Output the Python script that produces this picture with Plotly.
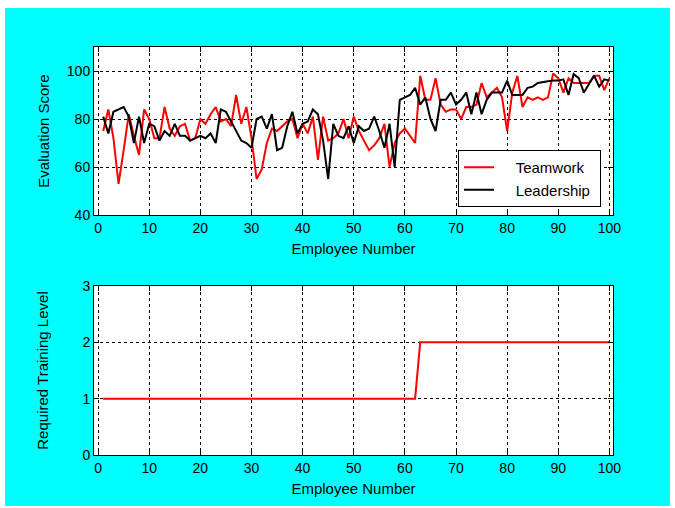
import plotly.graph_objects as go

employee = list(range(1, 101))

teamwork = [75, 84, 72, 53, 67, 82, 73, 65, 84, 80,
            72, 72, 85, 76, 73, 77, 78, 71, 72, 80,
            78, 82, 85, 79, 80, 77, 90, 78, 85, 72,
            55, 59, 70, 76, 75, 77, 79, 80, 72, 78,
            74, 81, 63, 81, 71, 72, 74, 80, 72, 81,
            75, 71, 67, 69, 72, 78, 60, 70, 74, 76,
            73, 70, 98, 88, 88, 97, 86, 83, 84, 84,
            80, 85, 85, 86, 95, 89, 91, 93, 89, 75,
            91, 98, 85, 89, 88, 89, 88, 89, 99, 97,
            91, 97, 95, 95, 95, 95, 98, 98, 92, 97]

leadership = [81, 74, 83, 84, 85, 81, 70, 81, 70, 78,
              77, 71, 75, 73, 78, 73, 73, 71, 72, 73,
              72, 74, 70, 84, 83, 79, 75, 71, 70, 68,
              80, 81, 76, 82, 67, 68, 77, 83, 74, 78,
              79, 84, 82, 71, 55, 78, 73, 72, 77, 70,
              77, 75, 76, 81, 75, 68, 78, 60, 88, 89,
              90, 93, 86, 89, 80, 75, 88, 88, 91, 86,
              88, 91, 82, 91, 82, 88, 91, 91, 91, 96,
              90, 90, 90, 93, 93.5, 95, 95.5, 95.7, 96, 96,
              96.5, 90, 98.7, 97, 91, 94.5, 98, 93.5, 96.5, 96]

training_level = [1, 1, 1, 1, 1, 1, 1, 1, 1, 1,
                  1, 1, 1, 1, 1, 1, 1, 1, 1, 1,
                  1, 1, 1, 1, 1, 1, 1, 1, 1, 1,
                  1, 1, 1, 1, 1, 1, 1, 1, 1, 1,
                  1, 1, 1, 1, 1, 1, 1, 1, 1, 1,
                  1, 1, 1, 1, 1, 1, 1, 1, 1, 1,
                  1, 1, 2, 2, 2, 2, 2, 2, 2, 2,
                  2, 2, 2, 2, 2, 2, 2, 2, 2, 2,
                  2, 2, 2, 2, 2, 2, 2, 2, 2, 2,
                  2, 2, 2, 2, 2, 2, 2, 2, 2, 2]

x_ticks = [0, 10, 20, 30, 40, 50, 60, 70, 80, 90, 100]
score_ticks = [40, 60, 80, 100]
level_ticks = [0, 1, 2, 3]

FONT = "Liberation Sans, Arial, Helvetica, sans-serif"
W, H = 675, 508
ML, MR, MT, MB = 94, 62, 47, 53
PW, PH = W - ML - MR, H - MT - MB


def px2x(px):
    return (px - ML) / PW


def py2y(py):
    return (H - MB - py) / PH


top_dom = [py2y(215), 1.0]
bot_dom = [0.0, py2y(286)]

NB = "\u00a0"

fig = go.Figure()
fig.add_trace(go.Scatter(x=employee, y=teamwork, mode="lines", name=NB * 4 + "Teamwork" + NB,
                         line=dict(color="#ff0000", width=2), xaxis="x", yaxis="y"))
fig.add_trace(go.Scatter(x=employee, y=leadership, mode="lines", name=NB * 4 + "Leadership" + NB,
                         line=dict(color="#000000", width=2), xaxis="x", yaxis="y"))
fig.add_trace(go.Scatter(x=employee, y=training_level, mode="lines", name="Training",
                         line=dict(color="#ff0000", width=2), xaxis="x2", yaxis="y2",
                         showlegend=False))

axis_common = dict(
    showline=True, linecolor="black", linewidth=1, mirror="ticks",
    ticks="inside", ticklen=5, tickcolor="black", tickwidth=1,
    showgrid=True, gridcolor="black", gridwidth=1, griddash="3px,3px",
    zeroline=False, tickfont=dict(family=FONT, size=14, color="black"),
)

fig.update_layout(
    width=W, height=H,
    margin=dict(l=ML, r=MR, t=MT, b=MB, pad=0),
    paper_bgcolor="white", plot_bgcolor="white",
    font=dict(family=FONT, size=14, color="black"),
    xaxis=dict(domain=[0, 1], anchor="y", range=[-0.8, 100.7], tickvals=x_ticks,
               title=dict(text="Employee Number", font=dict(size=15), standoff=8),
               **axis_common),
    yaxis=dict(domain=top_dom, anchor="x", range=[40, 110], tickvals=score_ticks,
               title=dict(text="Evaluation Score", font=dict(size=15), standoff=13),
               **axis_common),
    xaxis2=dict(domain=[0, 1], anchor="y2", range=[-0.8, 100.7], tickvals=x_ticks,
                title=dict(text="Employee Number", font=dict(size=15), standoff=8),
                **axis_common),
    yaxis2=dict(domain=bot_dom, anchor="x2", range=[0, 3], tickvals=level_ticks,
                title=dict(text="Required Training Level", font=dict(size=15), standoff=30),
                **axis_common),
    legend=dict(x=px2x(601), y=py2y(150), xanchor="right", yanchor="top",
                bgcolor="white", bordercolor="black", borderwidth=1,
                font=dict(family=FONT, size=15, color="black")),
    shapes=[
        dict(type="rect", xref="paper", yref="paper", layer="below",
             x0=px2x(5), x1=px2x(670), y0=py2y(506), y1=py2y(8),
             fillcolor="#00ffff", line=dict(width=0)),
        dict(type="rect", xref="paper", yref="paper", layer="below",
             x0=0, x1=1, y0=top_dom[0], y1=top_dom[1],
             fillcolor="white", line=dict(width=0)),
        dict(type="rect", xref="paper", yref="paper", layer="below",
             x0=0, x1=1, y0=bot_dom[0], y1=bot_dom[1],
             fillcolor="white", line=dict(width=0)),
    ],
)

fig.write_html("out.html", config={"displayModeBar": False},
               post_script="document.body.style.margin='0';document.body.style.overflow='hidden';")
